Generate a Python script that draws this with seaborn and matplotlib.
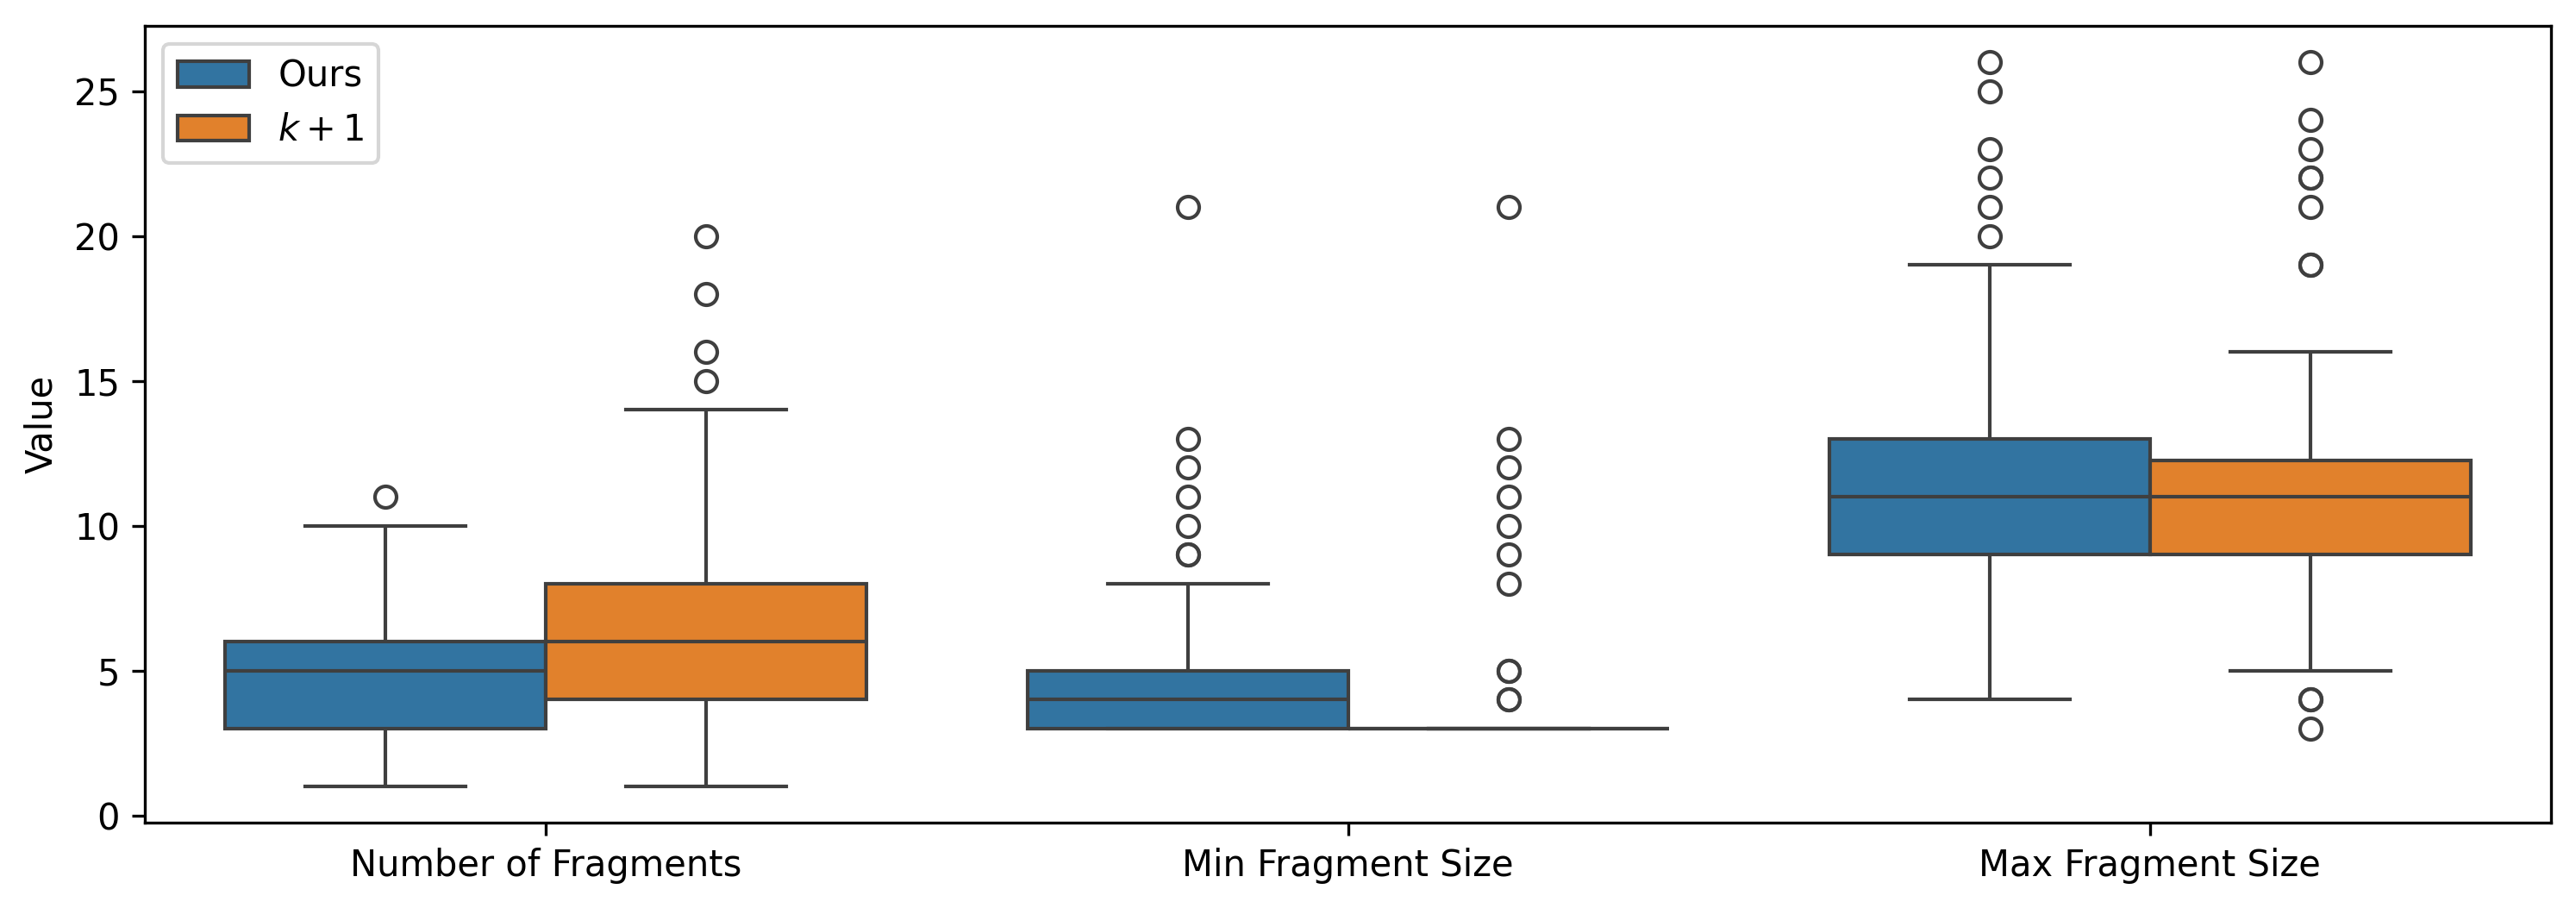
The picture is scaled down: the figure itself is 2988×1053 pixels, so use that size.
import matplotlib
matplotlib.use("Agg")
import matplotlib.pyplot as plt
import seaborn as sns
import pandas as pd

categories = ["Number of Fragments", "Min Fragment Size", "Max Fragment Size"]
methods = ["Ours", "$k+1$"]

nof_ours = [1, 1, 2, 2, 2, 3, 3, 3, 3, 3,
            3, 3, 4, 4, 4, 4, 4, 4, 5, 5,
            5, 5, 5, 5, 6, 6, 6, 6, 6, 6,
            6, 6, 7, 7, 8, 8, 9, 9, 10, 11]
nof_k1 = [1, 2, 2, 3, 3, 3, 4, 4, 4, 4,
          4, 4, 5, 5, 5, 5, 6, 6, 6, 6,
          6, 6, 7, 7, 7, 7, 8, 8, 8, 8,
          8, 9, 10, 11, 12, 14, 15, 16, 18, 20]
min_ours = [3, 3, 3, 3, 3, 3, 3, 3, 3, 3,
            3, 3, 3, 3, 3, 4, 4, 4, 4, 4,
            4, 4, 4, 4, 5, 5, 5, 5, 5, 5,
            5, 6, 8, 9, 9, 10, 11, 12, 13, 21]
min_k1 = [3, 3, 3, 3, 3, 3, 3, 3, 3, 3,
          3, 3, 3, 3, 3, 3, 3, 3, 3, 3,
          3, 3, 3, 3, 3, 3, 3, 3, 3, 3,
          3, 3, 3, 3, 4, 4, 5, 5, 8, 9,
          10, 11, 12, 13, 21]
max_ours = [4, 6, 7, 8, 8, 9, 9, 9, 9, 9,
            9, 10, 10, 10, 10, 11, 11, 11, 11, 11,
            11, 11, 12, 12, 12, 13, 13, 13, 13, 13,
            13, 15, 17, 19, 20, 21, 22, 23, 25, 26]
max_k1 = [3, 4, 4, 5, 7, 8, 9, 9, 9, 9,
          9, 10, 10, 10, 11, 11, 11, 11, 11, 11,
          11, 11, 11, 12, 12, 12, 12, 12, 12, 12,
          13, 16, 19, 19, 21, 22, 22, 23, 24, 26]

series = {
    (categories[0], methods[0]): nof_ours,
    (categories[0], methods[1]): nof_k1,
    (categories[1], methods[0]): min_ours,
    (categories[1], methods[1]): min_k1,
    (categories[2], methods[0]): max_ours,
    (categories[2], methods[1]): max_k1,
}
rows = []
for (cat, m), vals in series.items():
    for v in vals:
        rows.append({"Metric": cat, "Method": m, "Value": v})
df = pd.DataFrame(rows)

fig, ax = plt.subplots(figsize=(9.96, 3.51), dpi=300)
sns.boxplot(data=df, x="Metric", y="Value", hue="Method", order=categories,
            hue_order=methods, ax=ax)
ax.set_xlabel("")
ax.set_ylabel("Value")
ax.legend(loc="upper left")
fig.subplots_adjust(left=0.0563, right=0.9903, top=0.9715, bottom=0.094)
fig.savefig("out.png", dpi=300)
